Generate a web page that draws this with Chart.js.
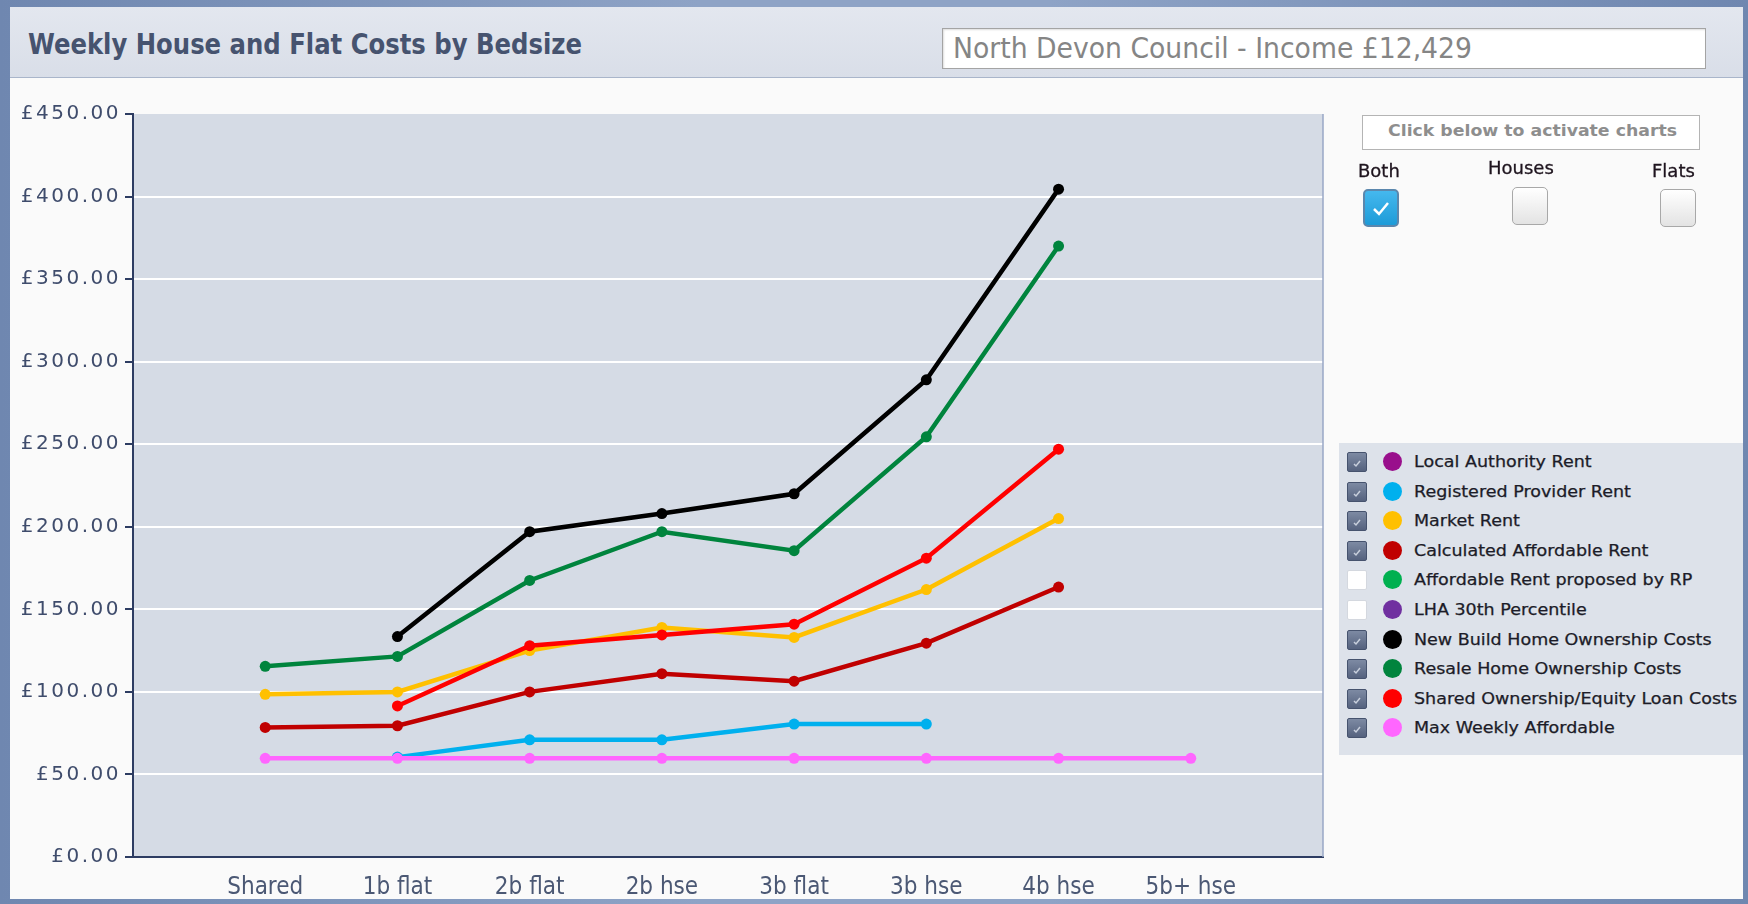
<!DOCTYPE html>
<html>
<head>
<meta charset="utf-8">
<script src="https://cdn.jsdelivr.net/npm/chart.js@4/dist/chart.umd.min.js"></script>
<style>
  html, body { margin: 0; padding: 0; }
  body { width: 1748px; height: 904px; position: relative; overflow: hidden;
         background: linear-gradient(90deg, #6f87b0, #8ea3c6 40%, #8ea3c6 60%, #6f87b0); }
  .abs { position: absolute; }
  #panel { left: 10px; top: 7px; width: 1733px; height: 892px; background: #fafafa; }
  #header { left: 10px; top: 7px; width: 1733px; height: 70px;
            background: linear-gradient(#e3e7ef, #d9dee8); border-bottom: 1px solid #a9b5ca; }
  #title { left: 28px; top: 27px; font: bold 29px "Liberation Sans Narrow", "DejaVu Sans Condensed", "Liberation Sans", sans-serif;
           color: #46536f; white-space: nowrap; }
  #incomeBox { left: 942px; top: 28px; width: 762px; height: 39px; background: #fff;
               border: 1px solid #a4a4a4; box-shadow: inset 1px 1px 2px #ddd; }
  #income { left: 953px; top: 31px; font: 29px "Liberation Sans Narrow", "DejaVu Sans Condensed", "Liberation Sans", sans-serif;
            color: #858585; white-space: nowrap; }
  #chart { left: 0; top: 0; }
  #activateBox { left: 1362px; top: 115px; width: 336px; height: 33px; background: #fff; border: 1px solid #b4b4b4; }
  #activate { left: 1388px; top: 121px; font: bold 16px "DejaVu Sans", sans-serif; color: #8e8e8e; white-space: nowrap; }
  .opt { font: 18px "DejaVu Sans", sans-serif; color: #1e141e; white-space: nowrap; -webkit-text-stroke: 0.3px #1e141e; }
  .cb { width: 36px; height: 38px; border-radius: 5px; box-sizing: border-box; }
  .cb.on { background: linear-gradient(#45b8ee, #1d9bd8); border: 2px solid #5b87ad; }
  .cb.off { background: linear-gradient(#ffffff, #e3e3e3); border: 1px solid #a8a8a8; }
  #legend { left: 1339px; top: 443px; width: 404px; height: 312px; background: #dde2ea; }
  .lrow { position: absolute; left: 0; height: 20px; }
  .lbox { position: absolute; left: 8px; top: 0; width: 20px; height: 20px; box-sizing: border-box; border-radius: 2px; }
  .lbox.on { background: linear-gradient(#7d8aa3, #55627e); border: 1px solid #46536e; }
  .lbox.off { background: #ffffff; border: 1px solid #d4d8df; }
  .ldot { position: absolute; left: 44px; top: 0; width: 19px; height: 19px; border-radius: 50%; }
  .ltext { position: absolute; left: 75px; top: 0; font: 15px "DejaVu Sans", sans-serif; color: #1c1c28;
           white-space: nowrap; line-height: 20px; transform-origin: 0 50%; -webkit-text-stroke: 0.25px #1c1c28; }
</style>
</head>
<body>
<div id="panel" class="abs"></div>
<div id="header" class="abs"></div>
<div id="title" class="abs">Weekly House and Flat Costs by Bedsize</div>
<div id="incomeBox" class="abs"></div>
<div id="income" class="abs">North Devon Council - Income £12,429</div>
<canvas id="chart" class="abs" width="1748" height="904" style="width:1748px;height:904px"></canvas>
<div id="activateBox" class="abs"></div>
<div id="activate" class="abs">Click below to activate charts</div>
<div id="optBoth" class="abs opt" style="left:1358px;top:160px">Both</div>
<div id="optHouses" class="abs opt" style="left:1488px;top:157px">Houses</div>
<div id="optFlats" class="abs opt" style="left:1652px;top:160px">Flats</div>
<div class="abs cb on" style="left:1363px;top:189px">
  <svg width="32" height="34" viewBox="0 0 32 34"><path d="M9 18 L14 23 L23 12" stroke="#fff" stroke-width="2.5" fill="none"/></svg>
</div>
<div class="abs cb off" style="left:1512px;top:187px"></div>
<div class="abs cb off" style="left:1660px;top:189px"></div>
<div id="legend" class="abs"></div>

<script>
// Bed-size categories along the bottom axis
const categories = ['Shared', '1b flat', '2b flat', '2b hse', '3b flat', '3b hse', '4b hse', '5b+ hse'];

// Weekly costs (£) per category; null where no figure applies
const localAuthorityRent   = [null, null, null, null, null, null, null, null];
const registeredProvider   = [null, 60.5, 71, 71, 80.5, 80.5, null, null];
const marketRent           = [98.5, 100, 125, 139, 133, 162, 205, null];
const calculatedAffordable = [78.5, 79.5, 100, 111, 106.5, 129.5, 163.5, null];
const affordableRentRP     = [null, null, null, null, null, null, null, null];
const lha30thPercentile    = [null, null, null, null, null, null, null, null];
const newBuildOwnership    = [null, 133.5, 197, 208, 220, 289, 404.5, null];
const resaleOwnership      = [115.5, 121.5, 167.5, 197, 185.5, 254.5, 370, null];
const sharedOwnership      = [null, 91.5, 128, 134.5, 141, 181, 247, null];
const maxWeeklyAffordable  = [59.75, 59.75, 59.75, 59.75, 59.75, 59.75, 59.75, 59.75];

// Vertical axis tick values
const yTicks = [0, 50, 100, 150, 200, 250, 300, 350, 400, 450];

const seriesNames = ['Local Authority Rent', 'Registered Provider Rent', 'Market Rent', 'Calculated Affordable Rent',
  'Affordable Rent proposed by RP', 'LHA 30th Percentile', 'New Build Home Ownership Costs',
  'Resale Home Ownership Costs', 'Shared Ownership/Equity Loan Costs', 'Max Weekly Affordable'];
const seriesValues = [localAuthorityRent, registeredProvider, marketRent, calculatedAffordable, affordableRentRP,
  lha30thPercentile, newBuildOwnership, resaleOwnership, sharedOwnership, maxWeeklyAffordable];
const seriesColours = ['#990f8c', '#00b0ee', '#ffc000', '#c00000', '#00b050', '#7030a0',
  '#000000', '#00843d', '#ff0000', '#ff66ff'];
const seriesShown = [true, true, true, true, false, false, true, true, true, true];

// Empty slots either side keep a full step of space at both ends of the axis
const axisLabels = [''].concat(categories, ['']);

const datasets = seriesValues.map((vals, i) => ({
  label: seriesNames[i],
  data: [null].concat(vals, [null]),
  borderColor: seriesColours[i],
  backgroundColor: seriesColours[i],
  pointBackgroundColor: seriesColours[i],
  pointBorderWidth: 0,
  pointRadius: 5.5,
  borderWidth: 4.5,
  tension: 0,
  hidden: !seriesShown[i],
  order: seriesValues.length - i
}));

const plotFrame = {
  id: 'plotFrame',
  beforeDraw(chart) {
    const a = chart.chartArea, ctx = chart.ctx;
    ctx.save();
    ctx.fillStyle = '#d5dbe5';
    ctx.fillRect(a.left, a.top, a.right - a.left, a.bottom - a.top);
    ctx.restore();
  },
  afterDatasetsDraw(chart) {
    const a = chart.chartArea, ctx = chart.ctx;
    ctx.save();
    ctx.strokeStyle = '#98a7c6';
    ctx.lineWidth = 1.5;
    ctx.beginPath();
    ctx.moveTo(a.right, a.top);
    ctx.lineTo(a.right, a.bottom);
    ctx.stroke();
    ctx.restore();
    // money labels on the value axis are spaced out
    ctx.letterSpacing = '2.5px';
  },
  afterDraw(chart) {
    chart.ctx.letterSpacing = '0px';
  }
};

new Chart(document.getElementById('chart'), {
  type: 'line',
  data: { labels: axisLabels, datasets },
  plugins: [plotFrame],
  options: {
    responsive: false,
    animation: false,
    layout: { padding: { left: 0, top: 114, right: 425, bottom: 7 } },
    plugins: { legend: { display: false }, tooltip: { enabled: false } },
    scales: {
      x: {
        offset: false,
        afterFit(scale) { scale.height = 40; },
        grid: { display: false },
        border: { display: true, color: '#2d3c62', width: 2 },
        ticks: {
          autoSkip: false, maxRotation: 0, padding: 8, color: '#4b5874',
          font: { family: '"Liberation Sans Narrow", "DejaVu Sans Condensed", "Liberation Sans", sans-serif', size: 24 }
        }
      },
      y: {
        min: 0, max: 450,
        afterFit(scale) { scale.width = 133; },
        afterBuildTicks(scale) { scale.ticks = yTicks.map(v => ({ value: v })); },
        grid: {
          color: ctx => (ctx.tick && (ctx.tick.value === 0 || ctx.tick.value === 450)) ? 'rgba(0,0,0,0)' : '#ffffff',
          lineWidth: 2, tickLength: 8, tickColor: '#2d3c62', drawTicks: true
        },
        border: { display: true, color: '#2d3c62', width: 2 },
        ticks: {
          z: 1, padding: 4, color: '#3f4c6c',
          font: { family: '"DejaVu Sans", sans-serif', size: 20 },
          callback: v => '£' + Number(v).toFixed(2)
        }
      }
    }
  }
});

// Series key with tick boxes
const legend = document.getElementById('legend');
const tick = '<svg width="18" height="18" viewBox="0 0 18 18" style="position:absolute;left:0;top:0">' +
  '<path d="M6 11 L8 13 L12 8" stroke="#c8cfdc" stroke-width="1.5" fill="none"/></svg>';
seriesNames.forEach((name, i) => {
  const row = document.createElement('div');
  row.className = 'lrow';
  row.style.top = (9 + i * 29.6) + 'px';
  row.style.width = '404px';
  row.innerHTML = '<div class="lbox ' + (seriesShown[i] ? 'on' : 'off') + '">' + (seriesShown[i] ? tick : '') + '</div>' +
    '<div class="ldot" style="background:' + seriesColours[i] + '"></div>' +
    '<div class="ltext">' + name + '</div>';
  legend.appendChild(row);
});

function fitWidth(el, w) {
  el.style.display = 'inline-block';
  el.style.transformOrigin = '0 50%';
  const cur = el.getBoundingClientRect().width;
  el.style.transform = 'scaleX(' + (w / cur) + ')';
}
fitWidth(document.getElementById('title'), 554);
fitWidth(document.getElementById('income'), 519);
fitWidth(document.getElementById('activate'), 289);
const texts = Array.from(document.querySelectorAll('.ltext'));
const longest = texts[8].getBoundingClientRect().width;
texts.forEach(t => { t.style.transform = 'scaleX(' + (323 / longest) + ')'; });
</script>
</body>
</html>
